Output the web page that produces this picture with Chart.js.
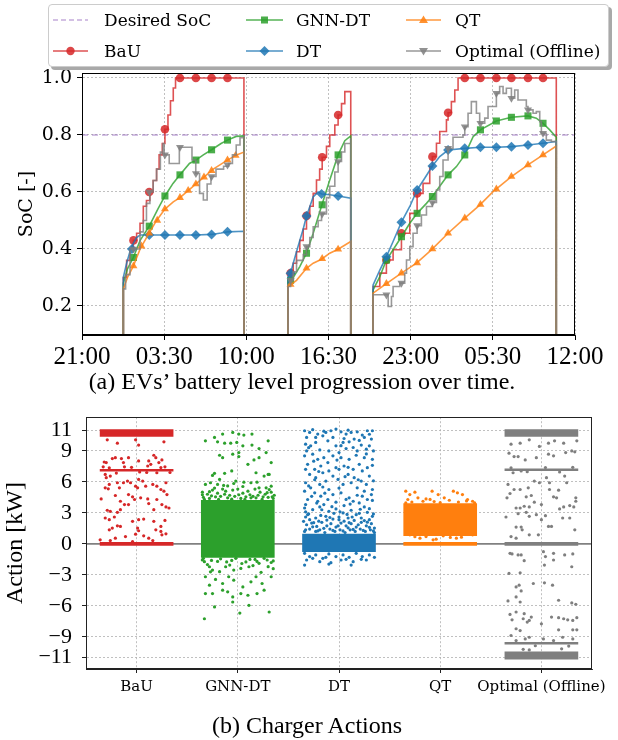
<!DOCTYPE html>
<html>
<head>
<meta charset="utf-8">
<script src="https://cdn.jsdelivr.net/npm/chart.js"></script>
<style>
  body { margin: 0; background: #fff; }
  #page { position: relative; width: 618px; height: 740px; overflow: hidden; background: #fff; }
  canvas { position: absolute; left: 0; }
  #socChart { top: 0; }
  #actionChart { top: 394px; }
  .legend { position: absolute; left: 48px; top: 4px; width: 559px; height: 61px; border: 1px solid #cccccc; border-radius: 4px; background: #fff; box-shadow: 3px 3px 0 #a9a9a9; }
  .entry { position: absolute; height: 20px; font-family: 'DejaVu Serif'; font-size: 17px; line-height: 20px; white-space: nowrap; color: #000; }
  .entry svg { position: absolute; left: 0; top: 3px; }
  .entry span { position: absolute; top: 0; }
  .caption { position: absolute; text-align: center; font-family: 'Liberation Serif'; font-size: 24px; line-height: 24px; color: #000; white-space: nowrap; }
</style>
</head>
<body>
<div id="page">
  <canvas id="socChart" width="618" height="372"></canvas>
  <div class="legend">
    <div class="entry" style="left:4px;top:5px"><svg width="36" height="14"><line x1="0" y1="7" x2="35" y2="7" stroke="rgba(148,103,189,0.55)" stroke-width="1.6" stroke-dasharray="5,3"/></svg><span style="left:51px">Desired SoC</span></div>
    <div class="entry" style="left:4px;top:36px"><svg width="36" height="14"><line x1="0" y1="7" x2="35" y2="7" stroke="rgba(214,39,40,0.8)" stroke-width="1.6"/><circle cx="17.5" cy="7" r="4.2" fill="rgba(214,39,40,0.85)"/></svg><span style="left:51px">BaU</span></div>
    <div class="entry" style="left:197px;top:5px"><svg width="38" height="14"><line x1="0" y1="7" x2="37" y2="7" stroke="rgba(44,160,44,0.8)" stroke-width="1.6"/><rect x="15" y="3.5" width="7" height="7" fill="rgba(44,160,44,0.85)"/></svg><span style="left:50px">GNN-DT</span></div>
    <div class="entry" style="left:197px;top:36px"><svg width="38" height="14"><line x1="0" y1="7" x2="37" y2="7" stroke="rgba(31,119,180,0.8)" stroke-width="1.6"/><path d="M18.5 2 L23.5 7 L18.5 12 L13.5 7 Z" fill="rgba(31,119,180,0.85)"/></svg><span style="left:50px">DT</span></div>
    <div class="entry" style="left:357px;top:5px"><svg width="36" height="14"><line x1="0" y1="7" x2="35" y2="7" stroke="rgba(255,127,14,0.8)" stroke-width="1.6"/><path d="M17.5 2.5 L22 10 L13 10 Z" fill="rgba(255,127,14,0.85)"/></svg><span style="left:49px">QT</span></div>
    <div class="entry" style="left:357px;top:36px"><svg width="36" height="14"><line x1="0" y1="7" x2="35" y2="7" stroke="rgba(127,127,127,0.8)" stroke-width="1.6"/><path d="M13 4 L22 4 L17.5 11.5 Z" fill="rgba(127,127,127,0.85)"/></svg><span style="left:49px">Optimal (Offline)</span></div>
  </div>
  <div class="caption" style="left:0;width:604px;top:369px">(a) EVs’ battery level progression over time.</div>
  <canvas id="actionChart" width="618" height="306"></canvas>
  <div class="caption" style="left:0;width:614px;top:713px">(b) Charger Actions</div>
</div>
<script>
// ---- (a) SoC over time, x in hours after 21:00 of day 1 ----
const timeTicks = [0, 6.5, 13, 19.5, 26, 32.5, 39];
const timeTickLabels = ['21:00', '03:30', '10:00', '16:30', '23:00', '05:30', '12:00'];
const socTicks = [0.2, 0.4, 0.6, 0.8, 1.0];
const desiredSoc = 0.8;

const bauSoc = [
  [3.27,0],[3.27,0.30],[3.53,0.36],[3.79,0.40],[4.06,0.43],[4.32,0.455],[4.59,0.49],[4.85,0.55],[5.10,0.57],[5.37,0.60],[5.63,0.64],[5.90,0.68],[6.10,0.73],[6.35,0.77],[6.56,0.82],[6.80,0.87],[7.00,0.92],[7.22,0.965],[7.40,1.0],[12.81,1.0],[12.81,0],
  [16.31,0],[16.31,0.29],[16.50,0.315],[16.71,0.35],[16.97,0.39],[17.23,0.43],[17.50,0.47],[17.76,0.516],[18.02,0.55],[18.29,0.595],[18.55,0.642],[18.80,0.68],[19.00,0.722],[19.34,0.76],[19.60,0.80],[20.00,0.835],[20.26,0.87],[20.53,0.91],[20.79,0.952],[21.26,0.952],[21.26,0],
  [23.03,0],[23.03,0.268],[23.56,0.315],[24.08,0.361],[24.61,0.397],[25.27,0.455],[25.93,0.525],[26.51,0.595],[26.98,0.630],[27.51,0.689],[27.72,0.724],[28.04,0.771],[28.30,0.812],[28.83,0.853],[28.96,0.878],[29.22,0.917],[29.49,0.958],[29.75,1.0],[37.52,1.0],[37.52,0]
];
const bauMarks = [
  [4.07,0.43],[5.32,0.60],[6.56,0.82],[7.75,1.0],[9.01,1.0],[10.25,1.0],[11.51,1.0],
  [16.50,0.315],[17.76,0.516],[19.00,0.722],[20.26,0.87],
  [24.08,0.361],[25.27,0.455],[26.51,0.595],[27.72,0.724],[28.96,0.878],[30.28,1.0],[31.52,1.0],[32.78,1.0],[33.97,1.0],[35.28,1.0],[36.47,1.0]
];

const gnnSoc = [
  [3.27,0],[3.27,0.28],[3.60,0.33],[4.06,0.37],[4.60,0.43],[5.32,0.48],[6.00,0.54],[6.56,0.586],[7.20,0.63],[7.75,0.66],[8.50,0.70],[9.01,0.712],[9.60,0.73],[10.25,0.748],[11.00,0.77],[11.51,0.782],[12.20,0.795],[12.81,0.797],[12.81,0],
  [16.31,0],[16.31,0.28],[16.71,0.30],[17.23,0.338],[17.76,0.385],[18.29,0.455],[18.95,0.551],[19.60,0.642],[20.26,0.73],[20.79,0.78],[21.26,0.797],[21.26,0],
  [23.03,0],[23.03,0.256],[23.56,0.303],[24.08,0.361],[24.61,0.397],[25.27,0.443],[25.93,0.490],[26.51,0.525],[27.25,0.560],[27.72,0.584],[28.30,0.620],[28.96,0.660],[29.62,0.689],[30.28,0.730],[30.94,0.794],[31.52,0.818],[32.78,0.849],[33.97,0.862],[35.28,0.867],[35.94,0.859],[36.47,0.841],[37.00,0.818],[37.52,0.792],[37.52,0]
];
const gnnMarks = [
  [4.07,0.37],[5.32,0.48],[6.56,0.586],[7.75,0.66],[9.01,0.712],[10.25,0.748],[11.51,0.782],
  [16.50,0.29],[17.76,0.385],[19.00,0.555],[20.26,0.73],
  [24.08,0.361],[25.27,0.443],[26.51,0.525],[27.72,0.584],[28.96,0.660],[30.28,0.730],[31.52,0.818],[32.78,0.849],[33.97,0.862],[35.28,0.867],[36.47,0.841]
];

const dtSoc = [
  [3.27,0],[3.27,0.30],[3.53,0.35],[3.79,0.39],[4.06,0.42],[4.32,0.44],[4.59,0.449],[9.01,0.449],[10.25,0.451],[11.00,0.456],[11.51,0.46],[12.81,0.462],[12.81,0],
  [16.31,0],[16.31,0.303],[16.50,0.315],[16.71,0.35],[16.97,0.39],[17.23,0.43],[17.50,0.47],[17.76,0.516],[18.02,0.548],[18.29,0.583],[18.68,0.60],[18.95,0.593],[19.60,0.59],[20.26,0.586],[21.26,0.578],[21.26,0],
  [23.03,0],[23.03,0.274],[23.56,0.326],[24.08,0.373],[24.61,0.426],[25.27,0.494],[25.93,0.549],[26.51,0.607],[27.11,0.648],[27.72,0.691],[28.30,0.724],[28.96,0.747],[30.28,0.753],[31.52,0.757],[32.78,0.757],[33.97,0.759],[35.28,0.765],[36.47,0.771],[37.52,0.777],[37.52,0]
];
const dtMarks = [
  [3.95,0.40],[5.32,0.449],[6.56,0.449],[7.75,0.449],[9.01,0.449],[10.25,0.451],[11.51,0.46],
  [16.50,0.315],[17.76,0.516],[18.95,0.593],[20.26,0.586],
  [24.08,0.373],[25.27,0.494],[26.51,0.607],[27.72,0.691],[28.96,0.747],[30.28,0.753],[31.52,0.757],[32.78,0.757],[33.97,0.759],[35.28,0.765],[36.47,0.771]
];

const qtSoc = [
  [3.27,0],[3.27,0.26],[3.60,0.30],[4.06,0.34],[4.60,0.40],[5.24,0.45],[5.90,0.50],[6.56,0.54],[7.22,0.565],[7.75,0.58],[8.54,0.61],[9.06,0.63],[9.72,0.655],[10.38,0.68],[10.91,0.695],[11.44,0.71],[12.23,0.73],[12.81,0.74],[12.81,0],
  [16.31,0],[16.31,0.268],[16.97,0.29],[17.76,0.332],[18.29,0.35],[18.95,0.364],[19.60,0.385],[20.26,0.399],[21.26,0.426],[21.26,0],
  [23.03,0],[23.03,0.245],[24.08,0.278],[25.27,0.315],[26.46,0.350],[27.64,0.397],[28.96,0.455],[30.28,0.508],[31.46,0.554],[32.52,0.601],[33.97,0.654],[35.28,0.695],[36.47,0.730],[37.52,0.761],[37.52,0]
];
const qtMarks = [
  [4.07,0.34],[4.70,0.41],[5.32,0.455],[5.95,0.50],[6.56,0.54],[7.75,0.58],[8.40,0.605],[9.01,0.628],[9.65,0.652],[10.25,0.675],[11.51,0.712],[12.15,0.728],
  [16.50,0.275],[17.76,0.332],[19.00,0.366],[20.26,0.399],
  [24.08,0.278],[25.27,0.315],[26.51,0.351],[27.72,0.40],[28.96,0.455],[30.28,0.508],[31.52,0.556],[32.78,0.61],[33.97,0.654],[35.28,0.695],[36.47,0.730]
];

const optSoc = [
  [3.27,0],[3.27,0.26],[3.45,0.31],[3.80,0.40],[4.32,0.40],[4.59,0.46],[4.85,0.50],[5.10,0.56],[5.37,0.60],[5.63,0.64],[5.90,0.68],[6.20,0.74],[6.40,0.77],[6.50,0.73],[6.90,0.70],[7.60,0.70],[7.70,0.757],[8.60,0.757],[8.70,0.712],[9.00,0.665],[9.30,0.595],[9.60,0.572],[9.90,0.628],[10.20,0.654],[10.60,0.68],[11.20,0.69],[11.60,0.70],[11.90,0.73],[12.20,0.765],[12.50,0.79],[12.81,0.80],[12.81,0],
  [16.31,0],[16.31,0.268],[16.50,0.29],[16.71,0.32],[16.97,0.36],[17.50,0.38],[17.76,0.408],[18.02,0.44],[18.29,0.478],[18.68,0.50],[18.95,0.523],[19.34,0.58],[19.60,0.62],[20.00,0.67],[20.26,0.707],[20.53,0.74],[20.79,0.77],[21.26,0.789],[21.26,0],
  [23.03,0],[23.03,0.239],[23.95,0.239],[24.22,0.198],[24.48,0.233],[24.61,0.268],[25.14,0.28],[25.53,0.315],[25.67,0.361],[25.93,0.408],[26.19,0.455],[26.51,0.482],[26.85,0.519],[27.25,0.549],[27.72,0.563],[28.04,0.607],[28.30,0.654],[28.56,0.712],[28.96,0.753],[29.35,0.792],[30.14,0.800],[30.28,0.829],[30.54,0.876],[30.80,0.917],[31.07,0.917],[31.20,0.876],[31.46,0.841],[31.86,0.859],[32.12,0.900],[32.52,0.900],[32.78,0.946],[33.04,0.970],[33.31,0.946],[33.57,0.964],[33.97,0.929],[34.23,0.958],[34.49,0.923],[34.89,0.923],[35.15,0.900],[35.28,0.888],[35.68,0.876],[35.94,0.882],[36.21,0.847],[36.34,0.806],[36.73,0.782],[37.13,0.777],[37.52,0.777],[37.52,0]
];
const optMarks = [
  [4.07,0.40],[5.32,0.60],[6.56,0.73],[7.75,0.757],[9.01,0.665],[10.25,0.654],[11.51,0.695],
  [16.50,0.29],[17.76,0.408],[19.00,0.523],[20.26,0.707],
  [24.08,0.239],[25.27,0.28],[26.51,0.482],[27.72,0.563],[28.96,0.753],[30.28,0.829],[31.52,0.841],[32.78,0.946],[33.97,0.929],[35.28,0.888],[36.47,0.806]
];

// ---- (b) charger actions, strip plot ----
const stripCategories = ['BaU', 'GNN-DT', 'DT', 'QT', 'Optimal (Offline)'];
const actionTicks = [11, 9, 6, 3, 0, -3, -6, -9, -11];

// dense bands per strategy: [low, high] in kW
const bauBands = [[10.4, 11.05], [7.02, 7.22], [-0.16, 0.16]];
const gnnBands = [[-1.3, 4.2]];
const dtBands = [[-0.75, 0.95]];
const qtBands = [[0.8, 3.9], [-0.16, 0.16]];
const optBands = [[10.4, 11.05], [7.08, 7.26], [-0.16, 0.16], [-9.7, -9.52], [-11.15, -10.45]];

// single points: [offset from strip centre, kW]
const bauPoints = [
  [-0.29,10.06],[-0.19,9.74],[-0.01,10.06],[0.02,9.55],[0.27,9.87],
  [-0.35,4.35],[-0.32,7.92],[-0.30,7.86],[-0.24,8.25],[-0.21,8.34],[-0.15,8.25],[-0.13,7.86],[-0.08,8.34],[0.02,8.02],[0.12,8.02],[0.17,8.57],[0.19,8.34],[0.22,7.86],[0.25,8.12],[0.11,7.53],[0.14,7.69],
  [-0.33,7.45],[-0.20,6.85],[-0.05,7.40],[0.10,6.90],[0.28,7.45],[0.33,6.90],[-0.12,7.45],[0.20,6.88],[-0.27,7.35],[0.03,6.95],[0.24,7.38],
  [-0.31,6.72],[-0.30,6.40],[-0.26,6.56],[-0.27,5.75],[-0.31,5.42],[-0.28,5.32],[-0.19,5.91],[-0.17,5.42],[-0.13,5.91],[-0.09,6.07],[-0.06,5.91],[-0.01,5.58],[0.01,5.42],[0.02,6.23],[0.06,6.07],[0.09,5.58],[0.16,5.75],[0.20,5.58],[0.24,5.26],[0.29,5.91],[0.27,5.10],[0.30,4.77],
  [-0.21,4.68],[-0.16,4.12],[-0.08,4.77],[-0.04,4.55],[-0.02,4.29],[0.04,4.45],[0.11,4.35],[0.12,3.90],[0.20,4.29],[0.25,3.80],[0.29,3.57],[0.32,3.47],
  [-0.29,3.25],[-0.26,3.15],[-0.19,3.05],[-0.16,3.31],[-0.12,3.80],[-0.08,3.80],[-0.31,2.50],[-0.27,2.34],[-0.22,2.60],[-0.19,1.75],[-0.16,1.69],[-0.04,2.18],[0.02,2.34],[0.07,2.40],[0.17,3.31],[0.17,2.18],[0.24,1.69],[0.28,2.27],
  [-0.27,1.36],[-0.24,1.53],[0.01,1.53],[0.02,1.27],[0.19,1.36],[0.24,1.20],[0.29,0.97],[-0.11,0.71],[-0.01,0.94],[0.07,0.78],[0.12,0.55],[0.25,0.88],[-0.36,0.39],[-0.26,0.32],[-0.21,0.55],[-0.04,0.23],[0.16,0.32]
];
const gnnPoints = [
  [-0.32,9.97],[-0.23,10.29],[-0.15,10.62],[-0.05,10.78],[0.01,10.62],[0.06,10.52],[0.14,10.62],[0.30,9.97],[-0.20,9.87],[-0.13,9.74],[-0.07,9.74],[-0.01,9.81],[0.05,9.48],[0.14,9.55],[0.21,9.22],[0.28,8.83],[0.33,7.86],
  [-0.18,8.57],[-0.15,8.34],[-0.05,8.67],[0.01,8.83],[0.01,8.44],[0.10,7.69],[0.16,8.12],[0.21,8.34],[0.30,6.72],[-0.23,6.82],[-0.25,6.62],[-0.18,6.23],[-0.13,6.82],[-0.06,7.05],[-0.02,6.07],[0.18,6.88],[0.26,6.56],[0.31,6.72],
  [-0.32,5.75],[-0.27,5.91],[-0.20,5.75],[-0.14,5.65],[-0.04,5.84],[0.06,5.97],[0.13,5.91],[0.19,5.97],[0.21,5.42],[0.28,5.42],[0.33,5.58],
  [-0.35,5.00],[-0.30,4.80],[-0.25,5.20],[-0.20,4.90],[-0.12,5.10],[-0.08,4.70],[0.00,5.30],[0.05,4.90],[0.10,5.10],[0.15,4.60],[0.22,5.00],[0.27,4.80],[0.33,5.00],[-0.17,4.60],[0.30,4.50],
  [-0.34,4.50],[-0.28,4.40],[-0.22,4.55],[-0.10,4.45],[-0.03,4.60],[0.03,4.40],[0.08,4.55],[0.18,4.45],[0.25,4.55],[0.35,4.40],[-0.15,5.30],[0.12,4.75],[-0.28,5.05],[0.36,4.70],
  [-0.33,4.30],[-0.26,4.65],[-0.19,4.30],[-0.13,4.80],[-0.06,4.32],[0.01,4.75],[0.07,4.30],[0.13,4.45],[0.20,4.70],[0.24,4.30],[0.29,4.95],[0.34,4.55],[-0.35,4.75],[-0.23,5.40],[-0.05,5.20],[0.17,5.30],[0.31,5.25],[-0.10,5.60],[0.05,5.55],
  [-0.33,-1.72],[-0.28,-2.21],[-0.25,-2.53],[-0.18,-2.69],[-0.12,-2.21],[-0.04,-2.53],[0.03,-2.37],[0.11,-2.21],[0.21,-1.88],[0.29,-1.56],
  [-0.32,-3.18],[-0.28,-3.99],[-0.22,-3.44],[-0.15,-3.83],[-0.09,-3.18],[-0.04,-3.51],[0.05,-4.16],[0.13,-3.67],[0.18,-3.18],[0.24,-3.83],[0.33,-3.18],
  [-0.32,-4.81],[-0.25,-4.81],[-0.15,-4.48],[-0.10,-4.64],[-0.05,-5.13],[0.03,-4.81],[0.10,-4.97],[0.19,-4.81],[0.26,-4.48],
  [-0.23,-6.10],[0.02,-6.69],[0.31,-6.59],[0.11,-5.94],[-0.05,-5.62],[-0.33,-7.24],
  [-0.35,-1.55],[-0.20,-1.70],[-0.06,-1.60],[0.08,-1.75],[0.17,-1.50],[0.35,-1.65],[-0.27,-2.70],[0.23,-2.75],[0.35,-2.40],
  [-0.34,-1.40],[-0.26,-1.60],[-0.17,-1.45],[-0.11,-1.75],[-0.02,-1.40],[0.04,-1.90],[0.12,-1.50],[0.19,-1.70],[0.26,-1.40],[0.33,-1.80],[-0.30,-2.00],[-0.08,-2.05],[0.15,-2.10],[0.30,-2.20]
];
const dtPoints = [
  [-0.34,10.94],[-0.29,10.78],[-0.26,11.04],[-0.21,10.62],[-0.13,10.78],[-0.08,10.94],[-0.03,11.1],[0.02,10.84],[0.07,10.62],[0.12,10.78],[0.18,10.84],[0.23,10.52],[0.28,10.94],[0.33,10.94],
  [-0.32,10.29],[-0.23,10.29],[-0.16,10.45],[-0.06,10.29],[0.05,10.19],[0.15,10.13],[0.25,10.29],[0.32,10.13],
  [-0.33,9.64],[-0.28,9.48],[-0.23,9.81],[-0.11,9.97],[-0.03,9.48],[0.04,9.81],[0.10,9.87],[0.14,9.32],[0.22,9.55],[0.30,9.48],
  [-0.32,8.99],[-0.19,9.09],[-0.10,8.99],[0.00,8.83],[0.07,9.22],[0.18,8.99],[0.27,9.16],[0.34,8.99],
  [-0.34,8.51],[-0.26,8.67],[-0.21,8.18],[-0.15,8.34],[-0.06,8.51],[0.02,8.34],[0.10,8.18],[0.17,8.57],[0.25,8.34],[0.33,8.18],
  [-0.31,7.69],[-0.24,7.21],[-0.18,7.53],[-0.11,7.86],[-0.03,7.37],[0.05,7.53],[0.14,7.21],[0.20,7.69],[0.28,7.37],[-0.33,7.21],[-0.10,7.05],[0.00,7.21],[0.23,7.05],
  [-0.29,6.72],[-0.23,6.40],[-0.16,6.88],[-0.06,6.56],[-0.01,6.23],[0.09,6.72],[0.15,6.40],[0.22,6.07],[0.30,6.56],
  [-0.33,5.91],[-0.19,5.75],[-0.13,6.07],[0.04,5.75],[0.12,5.91],[0.27,5.75],[0.33,5.26],[-0.28,5.42],[-0.10,5.26],[0.18,5.42],
  [-0.34,5.10],[-0.24,4.94],[-0.18,4.61],[-0.06,4.77],[0.02,4.94],[0.10,4.45],[0.23,4.61],[0.32,4.77],
  [-0.31,4.29],[-0.21,4.12],[-0.11,4.29],[-0.03,4.03],[0.14,4.12],[0.20,3.96],[0.28,4.29],[-0.33,3.80],[-0.15,3.80],[0.05,3.70],[0.25,3.57],
  [-0.34,3.47],[-0.26,3.31],[-0.19,3.57],[-0.10,3.15],[-0.03,3.38],[0.04,2.99],[0.12,3.25],[0.17,2.82],[0.28,3.05],[0.33,2.66],
  [-0.31,2.82],[-0.23,2.50],[-0.13,2.66],[-0.06,2.40],[0.09,2.50],[0.22,2.50],[0.30,2.34],[-0.29,2.34],[0.00,2.34],[0.15,2.27],
  [-0.35,2.18],[-0.32,1.85],[-0.27,2.01],[-0.22,1.69],[-0.17,2.08],[-0.12,1.75],[-0.08,1.95],[-0.03,1.62],[0.02,2.01],[0.07,1.75],[0.12,1.95],[0.17,1.62],[0.22,2.08],[0.27,1.75],[0.32,1.95],[0.35,1.53],
  [-0.33,1.36],[-0.29,1.43],[-0.23,1.20],[-0.19,1.36],[-0.14,1.10],[-0.09,1.43],[-0.04,1.20],[0.01,1.36],[0.06,1.10],[0.11,1.36],[0.16,1.20],[0.21,1.43],[0.26,1.20],[0.31,1.36],[0.35,1.10],
  [-0.30,2.90],[-0.18,2.75],[-0.05,2.95],[0.08,2.85],[0.20,2.95],[0.34,2.90],[-0.33,2.60],[-0.20,2.20],[-0.09,2.55],[0.05,2.20],[0.13,2.60],[0.25,2.25],
  [-0.26,1.65],[-0.15,1.50],[-0.01,1.75],[0.09,1.55],[0.19,1.85],[0.30,1.60],[-0.34,1.20],[-0.21,1.25],[-0.06,1.30],[0.04,1.25],[0.14,1.40],[0.24,1.30],[0.34,1.25],
  [-0.12,2.30],[0.28,2.10],[-0.25,2.05],[0.00,2.60],[0.10,2.05],
  [-0.27,4.60],[-0.14,4.90],[0.07,4.30],[0.18,4.70],[0.33,4.20],[-0.22,3.95],[-0.07,3.60],[0.11,3.85],[0.30,3.40],[-0.33,3.10],[-0.17,3.30],[0.01,3.10],[0.21,3.35],
  [-0.30,5.60],[-0.16,5.50],[0.00,5.40],[0.25,5.10],[-0.24,6.20],[0.06,6.50],[0.19,6.20],[0.34,6.10],[-0.20,7.00],[0.09,7.40],[0.33,7.60],[-0.25,8.00],[-0.02,8.10],[0.27,8.70],[-0.30,9.30],[0.02,9.50],[0.20,10.00],[-0.15,10.90],[0.09,11.00],[0.30,10.60],
  [-0.34,-0.91],[-0.29,-1.23],[-0.23,-1.07],[-0.16,-1.40],[-0.10,-0.97],[-0.03,-1.23],[0.04,-1.07],[0.10,-1.30],[0.17,-0.91],[0.23,-1.23],[0.30,-1.07],[0.35,-1.30],
  [-0.32,-1.56],[-0.19,-1.72],[-0.08,-1.82],[0.02,-1.56],[0.14,-1.72],[0.27,-1.56],[-0.34,-2.05],[-0.10,-1.95],[0.12,-2.05],[-0.26,-1.40],[-0.13,-1.30],[0.07,-1.49],[0.22,-1.49]
];
const qtPoints = [
  [-0.34,5.10],[-0.30,4.77],[-0.25,5.00],[-0.08,5.10],[-0.02,4.77],[0.13,5.10],[0.17,4.94],[0.22,4.77],[0.27,4.29],[-0.32,4.29],[-0.22,4.45],[-0.14,4.35],[0.04,4.45],[0.32,4.12],[-0.17,4.12],[0.09,4.22],[0.34,3.96],[-0.34,3.96],
  [-0.28,4.05],[-0.06,4.10],[0.18,4.05],[0.26,4.15],[-0.10,4.30],[0.00,3.98],
  [-0.20,0.55],[-0.14,0.71],[-0.04,0.45],[0.16,0.55],[0.21,0.65],[0.03,0.78],[-0.30,0.88],[0.32,0.88],[-0.07,0.39],[0.10,0.62],[-0.25,0.70]
];
const optPoints = [
  [-0.30,9.64],[-0.21,9.74],[-0.12,10.06],[-0.02,9.42],[0.07,9.74],[0.13,9.97],[0.22,9.74],[0.35,9.97],
  [-0.32,8.77],[-0.27,8.44],[-0.23,8.44],[-0.16,8.12],[-0.05,8.34],[0.07,8.67],[0.12,8.51],[0.24,8.83],[0.30,8.99],[0.33,8.90],
  [-0.28,6.88],[-0.20,7.05],[-0.07,6.07],[-0.02,5.91],[0.05,6.40],[0.08,5.91],[0.23,6.56],[0.25,5.91],
  [-0.33,5.75],[-0.27,5.26],[-0.21,5.26],[-0.13,5.42],[0.08,5.26],[0.17,5.19],
  [-0.34,4.45],[-0.31,4.87],[-0.15,4.55],[-0.10,4.68],[0.12,4.55],[0.15,4.45],[0.34,4.45],[0.34,4.12],
  [-0.25,3.47],[-0.21,3.47],[-0.17,3.64],[-0.12,3.57],[-0.07,4.03],[0.00,3.80],[0.18,3.38],[0.22,3.57],[0.28,3.70],[0.32,3.57],
  [-0.35,2.60],[-0.23,2.92],[-0.15,3.05],[-0.12,2.66],[-0.05,2.82],[0.00,2.34],[0.04,2.73],[0.21,2.50],[0.28,2.50],
  [0.33,1.36],[-0.25,1.62],[-0.20,1.62],[-0.19,1.36],[-0.12,0.88],[-0.03,0.88],[0.07,1.69],[0.10,1.69],[-0.30,0.71],[-0.25,0.55],
  [-0.31,-0.91],[-0.29,-0.97],[-0.23,-1.07],[-0.20,-1.07],[0.02,-0.75],[0.04,-1.23],[0.12,-0.91],[0.23,-1.07],[0.31,-0.97],
  [-0.17,-1.62],[0.03,-2.05],[0.12,-1.56],[0.30,-2.21],[-0.32,-2.86],[-0.21,-2.79],
  [-0.08,-3.83],[0.03,-3.77],[0.11,-3.99],[-0.25,-4.16],[-0.22,-3.99],[-0.20,-4.55],[-0.25,-5.13],[-0.21,-5.62],[0.17,-5.45],[0.30,-5.71],[0.34,-5.84],[-0.33,-5.52],
  [-0.31,-6.82],[-0.25,-6.59],[-0.17,-6.75],[-0.14,-7.56],[-0.12,-7.40],[-0.10,-7.08],[0.10,-7.08],[0.17,-7.14],[0.22,-7.24],[0.26,-7.34],[0.31,-7.40],[0.35,-7.14],[-0.29,-7.34],[-0.18,-7.24],
  [-0.25,-8.21],[-0.21,-8.38],[0.00,-7.73],[0.17,-8.31],[0.31,-8.31],[0.35,-8.31],
  [-0.16,-9.19],[-0.12,-9.03],[0.02,-9.19],[0.21,-9.03],[0.31,-9.19],[-0.30,-8.86],[-0.12,-10.26],
  [-0.30,7.35],[-0.14,6.98],[0.04,7.38],[0.18,6.95],[0.31,7.40],[-0.25,-9.35],[-0.06,-9.85],[0.12,-9.35],[0.27,-9.88],[-0.18,-10.2],[0.20,-10.15]
];

const RED = '#d62728', GREEN = '#2ca02c', BLUE = '#1f77b4', ORANGE = '#ff7f0e', GRAY = '#7f7f7f';

const toXY = arr => arr.map(([x, y]) => ({ x, y }));

// draw the full box round the plot, like matplotlib spines
const framePlugin = {
  id: 'frame',
  afterDatasetsDraw(chart, args, opts) {
    const { ctx, chartArea: a } = chart;
    ctx.save();
    ctx.strokeStyle = opts.color || '#000';
    ctx.lineWidth = 1;
    ctx.strokeRect(Math.round(a.left) + 0.5, Math.round(a.top) + 0.5, Math.round(a.right - a.left) - 1, Math.round(a.bottom - a.top) - 1);
    ctx.restore();
  }
};

function lineSet(label, pts, color, stepped, order) {
  return {
    type: 'line', label, data: toXY(pts), borderColor: color, borderWidth: 1.6,
    pointRadius: 0, stepped, tension: 0, order, clip: 0
  };
}

function markSet(label, pts, color, style, radius, rotation, order) {
  return {
    type: 'line', label, data: toXY(pts), showLine: false, pointStyle: style,
    pointRadius: radius, pointRotation: rotation, backgroundColor: color,
    borderColor: color, pointBorderWidth: 0, order, clip: false
  };
}

const gridStyle = { color: '#b0b0b0', lineWidth: 0.8, tickLength: 5, tickColor: '#000', tickWidth: 1 };
const borderStyle = { color: '#000', width: 1, dash: [2, 2] };

new Chart(document.getElementById('socChart'), {
  type: 'line',
  data: {
    datasets: [
      { type: 'line', label: 'Desired SoC', data: toXY([[timeTicks[0], desiredSoc], [timeTicks[timeTicks.length - 1], desiredSoc]]),
        borderColor: 'rgba(148,103,189,0.55)', borderWidth: 1.5, borderDash: [6, 4], pointRadius: 0, order: 20 },
      lineSet('BaU', bauSoc, 'rgba(214,39,40,0.8)', true, 10),
      markSet('BaU', bauMarks, 'rgba(214,39,40,0.85)', 'circle', 4.3, 0, 9.5),
      lineSet('GNN-DT', gnnSoc, 'rgba(44,160,44,0.8)', false, 9),
      markSet('GNN-DT', gnnMarks, 'rgba(44,160,44,0.85)', 'rect', 5, 0, 8.5),
      lineSet('DT', dtSoc, 'rgba(31,119,180,0.8)', false, 8),
      markSet('DT', dtMarks, 'rgba(31,119,180,0.85)', 'rectRot', 5, 0, 7.5),
      lineSet('QT', qtSoc, 'rgba(255,127,14,0.8)', false, 7),
      markSet('QT', qtMarks, 'rgba(255,127,14,0.85)', 'triangle', 4.6, 0, 6.5),
      lineSet('Optimal (Offline)', optSoc, 'rgba(127,127,127,0.8)', true, 6),
      markSet('Optimal (Offline)', optMarks, 'rgba(127,127,127,0.85)', 'triangle', 4.6, 180, 5.5)
    ]
  },
  options: {
    responsive: false, animation: false, devicePixelRatio: 1,
    layout: { padding: { left: 0, top: 73, right: 43, bottom: 0 } },
    plugins: { legend: { display: false }, tooltip: { enabled: false }, frame: { color: '#000' } },
    scales: {
      x: {
        type: 'linear', min: timeTicks[0], max: timeTicks[timeTicks.length - 1],
        afterBuildTicks: s => { s.ticks = timeTicks.map(v => ({ value: v })); },
        afterFit: s => { s.height = 37; },
        ticks: { autoSkip: false, maxRotation: 0, color: '#000', padding: 2,
          font: { family: 'Liberation Serif', size: 25 }, callback: (v, i) => timeTickLabels[i] },
        grid: gridStyle, border: borderStyle
      },
      y: {
        min: 0.098, max: 1.0175,
        afterBuildTicks: s => { s.ticks = socTicks.map(v => ({ value: v })); },
        afterFit: s => { s.width = 82; },
        ticks: { color: '#000', padding: 5, font: { family: 'DejaVu Serif', size: 19 }, callback: v => v.toFixed(1) },
        grid: gridStyle, border: borderStyle,
        title: { display: true, text: 'SoC [-]', color: '#000', font: { family: 'DejaVu Serif', size: 19 }, padding: { top: 16, bottom: 0 } }
      }
    }
  },
  plugins: [framePlugin]
});

// strip plot datasets
const stripColors = [RED, GREEN, BLUE, ORANGE, GRAY];
const stripBands = [bauBands, gnnBands, dtBands, qtBands, optBands];
const stripPoints = [bauPoints, gnnPoints, dtPoints, qtPoints, optPoints];

const actionSets = [
  { type: 'line', label: 'zero', data: toXY([[-0.5, 0], [4.5, 0]]), showLine: true,
    borderColor: '#808080', borderWidth: 1.8, pointRadius: 0, order: 3 }
];
stripCategories.forEach((name, c) => {
  actionSets.push({
    type: 'bar', label: name + ' bands', data: stripBands[c].map(b => ({ x: c, y: b })),
    backgroundColor: stripColors[c], borderWidth: 0, barThickness: 73, grouped: false, order: 2
  });
  actionSets.push({
    type: 'scatter', label: name, data: stripPoints[c].map(([dx, v]) => ({ x: c + dx, y: v })),
    backgroundColor: stripColors[c], pointRadius: 1.6, pointBorderWidth: 0, showLine: false, order: 1
  });
});

const gridStyle2 = { color: '#b0b0b0', lineWidth: 0.8, tickLength: 4, tickColor: '#222', tickWidth: 1, offset: false };
const borderStyle2 = { color: '#222', width: 1, dash: [2, 2] };

new Chart(document.getElementById('actionChart'), {
  type: 'scatter',
  data: { datasets: actionSets },
  options: {
    responsive: false, animation: false, devicePixelRatio: 1,
    layout: { padding: { left: 0, top: 23, right: 26, bottom: 0 } },
    plugins: { legend: { display: false }, tooltip: { enabled: false }, frame: { color: '#222' } },
    scales: {
      x: {
        type: 'linear', min: -0.5, max: 4.5, offset: false,
        afterBuildTicks: s => { s.ticks = stripCategories.map((_, i) => ({ value: i })); },
        afterFit: s => { s.height = 31; },
        ticks: { autoSkip: false, maxRotation: 0, color: '#000', padding: 5,
          font: { family: 'DejaVu Serif', size: 15 }, callback: (v, i) => stripCategories[i] },
        grid: gridStyle2, border: borderStyle2
      },
      y: {
        type: 'linear', min: -12.1, max: 12.25,
        afterBuildTicks: s => { s.ticks = actionTicks.map(v => ({ value: v })); },
        afterFit: s => { s.width = 86; },
        ticks: { color: '#000', padding: 10, font: { family: 'Liberation Serif', size: 22 },
          callback: v => (v < 0 ? '\u2212' + (-v) : String(v)) },
        grid: gridStyle2, border: borderStyle2,
        title: { display: true, text: 'Action [kW]', color: '#000', font: { family: 'Liberation Serif', size: 24 }, padding: { top: 1, bottom: 0 } }
      }
    }
  },
  plugins: [framePlugin]
});
</script>
</body>
</html>
